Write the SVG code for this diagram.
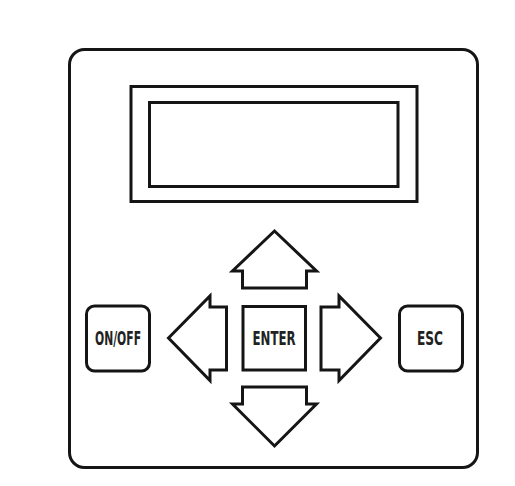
<svg xmlns="http://www.w3.org/2000/svg" width="515" height="486" viewBox="0 0 515 486">
<style>
.s{fill:#fff;stroke:#151515;stroke-width:3;stroke-linejoin:miter}
.t{font-family:"DejaVu Sans Condensed","DejaVu Sans",sans-serif;font-weight:bold;font-size:19px;fill:#222;text-anchor:middle}
</style>
<rect width="515" height="486" fill="#fff"/>
<g id="panel"><rect class="s" x="69.5" y="49.5" width="408" height="418" rx="15"/></g>
<g id="display">
<rect class="s" x="131" y="86.5" width="286" height="115"/>
<rect class="s" x="149.5" y="102.5" width="248.5" height="84"/>
</g>
<g id="up"><polygon class="s" points="274.5,231 316.5,271 306.5,271 306.5,288 242.5,288 242.5,271 232.5,271"/></g>
<g id="down"><polygon class="s" points="274.5,446 316.5,404 306.5,404 306.5,387 242.5,387 242.5,404 232.5,404"/></g>
<g id="left"><polygon class="s" points="168.5,338 210,296 210,307 226.5,307 226.5,370 210,370 210,380.5"/></g>
<g id="right"><polygon class="s" points="380.5,338 339,296 339,307 321,307 321,370 339,370 339,380.5"/></g>
<g id="enter"><rect class="s" x="243" y="306.5" width="62.5" height="63.5"/><text class="t" x="274" y="345" textLength="43" lengthAdjust="spacingAndGlyphs">ENTER</text></g>
<g id="onoff"><rect class="s" x="86.5" y="306" width="63" height="65" rx="8"/><text class="t" x="118" y="345" textLength="46" lengthAdjust="spacingAndGlyphs">ON/OFF</text></g>
<g id="esc"><rect class="s" x="399.5" y="306" width="63" height="65" rx="8"/><text class="t" x="430" y="345" textLength="26" lengthAdjust="spacingAndGlyphs">ESC</text></g>
</svg>
